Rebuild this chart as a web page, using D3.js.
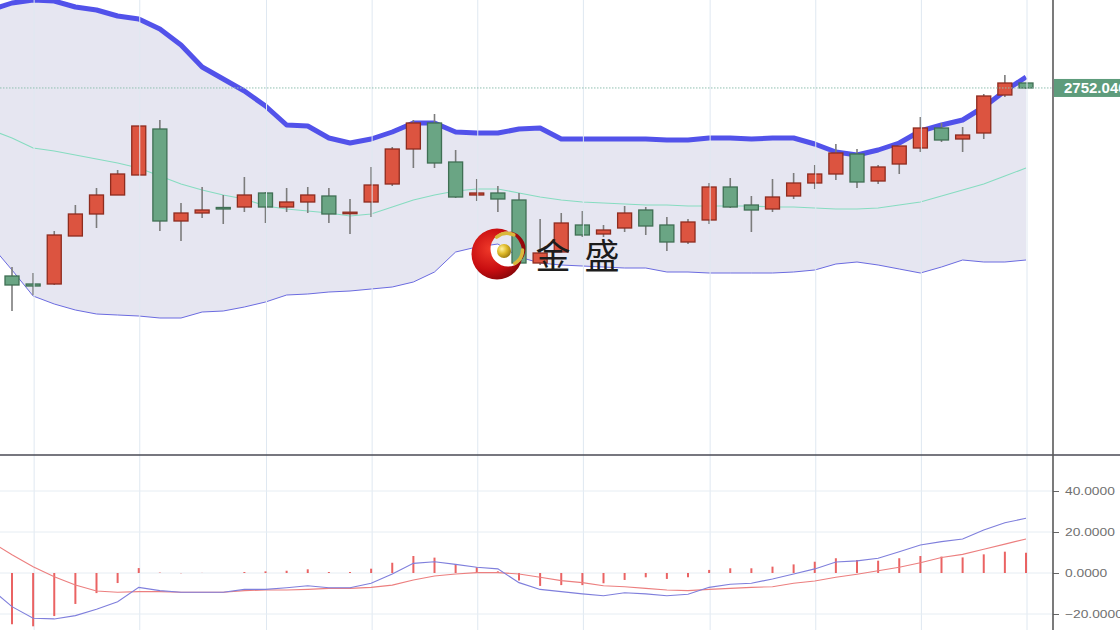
<!DOCTYPE html>
<html><head><meta charset="utf-8">
<script src="https://cdn.jsdelivr.net/npm/d3@7"></script>
<style>html,body{margin:0;padding:0;background:#fff;overflow:hidden}</style>
</head><body><svg id="c" width="1120" height="630"></svg>
<script>
// slot 0 is the session just before the first visible candle (off-screen)
const days = [0,1,2,3,4,5,6,7,8,9,10,11,12,13,14,15,16,17,18,19,20,21,22,23,24,25,26,27,28,29,30,31,32,33,34,35,36,37,38,39,40,41,42,43,44,45,46,47,48,49];
const openP  = [null,2564,2556,2556,2604,2626,2645,2665,2711,2619,2627,2632.5,2633,2647,2633,2638,2644,2627,2638,2656,2691,2717,2678,2645,2647,2640,2577,2588,2615,2606,2612,2630,2615,2598,2620,2653,2635,2631,2644,2657,2666,2686,2659,2676,2692,2712,2701,2707,2745,2757];
const closeP = [null,2555,2554,2605,2626,2645,2666,2714,2619,2627,2630,2632,2645,2633,2638,2645,2626,2627.8,2655,2691,2717,2677,2643,2647,2641,2577,2587,2617,2605,2610,2627,2614,2598,2618,2653,2633,2630,2643,2657,2666,2687,2658,2673,2694,2712,2700,2705,2744,2757,2752.04];
const highP  = [null,2573,2567,2609,2635,2652,2670,2714,2720,2637,2653,2645,2663,2648,2652,2653,2652,2641,2673,2693,2720,2726,2690,2661,2654,2647,2621,2627,2629,2615,2634,2633,2623,2621,2657,2662,2644,2661,2667,2675,2696,2691,2675,2694,2723,2717,2713,2746,2765,2757];
const lowP   = [null,2529,2545,2555,2604,2612,2645,2665,2609,2599,2622,2616,2628,2617,2628,2627,2617,2606,2623,2654,2672,2672,2642,2639,2628,2577,2575,2588,2603,2603,2608,2605,2589,2596,2616,2632,2608,2628,2641,2651,2660,2652,2656,2666,2688,2698,2688,2701,2743,2751];
const bollUpper = [2830,2837,2840,2839,2833,2830,2824,2821,2811,2795,2773,2761,2749,2734,2715,2714,2702,2697,2701,2708,2717,2717,2708,2707,2707,2711,2712,2701,2701,2701,2701,2701,2700,2700,2702,2702,2701,2702,2702,2696,2688,2685,2690,2697,2709,2715,2720,2733,2749,2763];
const bollMid   = [2710,2702,2692,2689,2685,2681,2677,2672,2664,2656,2650,2645,2641,2634,2631,2629,2627,2624,2626,2633,2640,2645,2649,2651,2651,2647,2643,2640,2638,2637,2636,2635,2635,2634,2634,2634,2634,2633,2633,2632,2631,2631,2632,2635,2638,2644,2650,2656,2664,2672];
const bollLower = [2595,2570,2544,2536,2530,2526,2525,2524,2522,2522,2528,2529,2533,2538,2545,2546,2548,2549,2551,2553,2558,2568,2588,2593,2596,2583,2577,2575,2574,2573,2572,2572,2568,2568,2567,2567,2567,2567,2568,2570,2576,2578,2575,2571,2567,2573,2580,2578,2578,2580];
const macdDIF  = [-7.7,-16.4,-22.1,-22.4,-20.8,-17.7,-14.0,-7.0,-8.6,-9.4,-9.4,-9.4,-8.0,-8.0,-7.2,-6.2,-7.2,-7.2,-5.0,-0.5,4.7,5.5,4.2,2.8,2.0,-4.7,-8.0,-9.1,-10.2,-11.1,-9.6,-10.2,-11.1,-10.4,-7.0,-5.5,-5.0,-2.9,-0.5,2.0,5.4,5.9,7.2,10.4,13.7,15.3,16.6,21.0,24.5,26.7];
const macdDEA  = [15.3,8.9,3.1,-1.8,-5.9,-8.8,-9.4,-9.1,-9.1,-9.4,-9.4,-9.4,-8.6,-8.3,-8.3,-8.0,-7.5,-7.5,-7.0,-5.9,-3.4,-1.5,-0.5,0.2,0.2,-0.5,-2.1,-3.7,-4.7,-6.2,-6.7,-7.5,-8.3,-8.6,-8.0,-7.5,-7.0,-6.7,-5.0,-3.9,-2.1,-0.6,1.1,2.8,5.0,7.6,9.1,11.6,14.1,16.6];
const macdHist = [null,-25,-26,-21,-15.1,-9.8,-4.9,2.4,0.2,-0.1,0.05,0,0.5,0.8,1.1,1.8,0.5,0.5,2.1,5.0,8.3,7.5,4.4,2.8,0.8,-3.7,-6.3,-5.9,-5.9,-5.0,-3.4,-2.1,-2.9,-2.1,1.5,2.3,2.3,3.1,4.2,5.5,7.2,6.3,6.0,7.2,8.3,8.0,7.6,9.1,10.4,9.9];
const gridDays = [2,7,13,18,23,28,34,39,44,49];
const macdTicks = [40,20,0,-20];
const lastPrice = 2752.04;

const svg = d3.select("#c");
const W = 1120, H = 630, axisX = 1053, sepY = 455;
const x = d3.scalePoint().domain(days).range([12 - 21.125, 1026]);
const y = d3.scaleLinear().domain([2840, 2385]).range([0, sepY]);
const ym = d3.scaleLinear().domain([-20, 40]).range([614, 491]);

const defs = svg.append("defs");
defs.append("clipPath").attr("id","cpMain").append("rect").attr("x",0).attr("y",0).attr("width",axisX).attr("height",sepY);
defs.append("clipPath").attr("id","cpLow").append("rect").attr("x",0).attr("y",sepY+1).attr("width",axisX).attr("height",H-sepY);
const rg = defs.append("radialGradient").attr("id","redG").attr("cx","35%").attr("cy","40%").attr("r","70%");
rg.append("stop").attr("offset","0%").attr("stop-color","#f03a2a");
rg.append("stop").attr("offset","60%").attr("stop-color","#c80d10");
rg.append("stop").attr("offset","100%").attr("stop-color","#7a0508");
const gg = defs.append("radialGradient").attr("id","goldG").attr("cx","35%").attr("cy","35%").attr("r","70%");
gg.append("stop").attr("offset","0%").attr("stop-color","#fff2a0");
gg.append("stop").attr("offset","50%").attr("stop-color","#e0bb2a");
gg.append("stop").attr("offset","100%").attr("stop-color","#9c7a10");

svg.append("rect").attr("width",W).attr("height",H).attr("fill","#fff");

// main panel
const main = svg.append("g").attr("clip-path","url(#cpMain)");
const idx = d3.range(days.length);
const area = d3.area().x(i=>x(days[i])).y0(i=>y(bollLower[i])).y1(i=>y(bollUpper[i]));
main.append("path").datum(idx).attr("d",area).attr("fill","#e6e6f1");

// vertical grid (both panels)
svg.append("g").selectAll("line").data(gridDays).join("line")
  .attr("x1",d=>x(d)+1).attr("x2",d=>x(d)+1).attr("y1",0).attr("y2",H)
  .attr("stroke","#dfe8f1").attr("stroke-width",1);

// lower panel horizontal grid
svg.append("g").selectAll("line").data(macdTicks).join("line")
  .attr("x1",0).attr("x2",axisX).attr("y1",d=>ym(d)).attr("y2",d=>ym(d))
  .attr("stroke","#e6edf3").attr("stroke-width",1);

const lineOf = (arr, sc) => d3.line().x(i=>x(days[i])).y(i=>sc(arr[i]));
main.append("path").datum(idx).attr("d",lineOf(bollMid,y)).attr("fill","none").attr("stroke","#86dcc0").attr("stroke-width",1.1);
main.append("path").datum(idx).attr("d",lineOf(bollLower,y)).attr("fill","none").attr("stroke","#6b6be0").attr("stroke-width",1);
main.append("path").datum(idx).attr("d",lineOf(bollUpper,y)).attr("fill","none").attr("stroke","#5252ea").attr("stroke-width",5).attr("stroke-linejoin","round");

// last price dotted line
svg.append("line").attr("x1",0).attr("x2",axisX).attr("y1",y(lastPrice)).attr("y2",y(lastPrice))
  .attr("stroke","#8fbfb0").attr("stroke-width",1).attr("stroke-dasharray","1.5,1.5");

// candles
const cIdx = idx.filter(i=>openP[i]!==null);
main.append("g").selectAll("line").data(cIdx).join("line")
  .attr("x1",i=>x(days[i])).attr("x2",i=>x(days[i]))
  .attr("y1",i=>y(highP[i])).attr("y2",i=>y(lowP[i]))
  .attr("stroke","#7c7c7c").attr("stroke-width",1.6);
const bw = 14;
main.append("g").selectAll("rect").data(cIdx).join("rect")
  .attr("x",i=>x(days[i])-bw/2).attr("width",bw)
  .attr("y",i=>y(Math.max(openP[i],closeP[i])))
  .attr("height",i=>Math.max(1.5, Math.abs(y(openP[i])-y(closeP[i]))))
  .attr("fill",i=>closeP[i]>=openP[i]?"#dc5440":"#6aa584")
  .attr("stroke",i=>closeP[i]>=openP[i]?"#8e2c1f":"#3f6f54")
  .attr("stroke-width",1.3);

// lower panel: MACD
const low = svg.append("g").attr("clip-path","url(#cpLow)");
const hIdx = idx.filter(i=>macdHist[i]!==null);
low.append("g").selectAll("line").data(hIdx).join("line")
  .attr("x1",i=>x(days[i])).attr("x2",i=>x(days[i]))
  .attr("y1",ym(0)).attr("y2",i=>ym(macdHist[i]))
  .attr("stroke","#e64848").attr("stroke-opacity",0.85).attr("stroke-width",2);
low.append("path").datum(idx).attr("d",lineOf(macdDEA,ym)).attr("fill","none").attr("stroke","#ec7f7f").attr("stroke-width",1.1);
low.append("path").datum(idx).attr("d",lineOf(macdDIF,ym)).attr("fill","none").attr("stroke","#7f7fdc").attr("stroke-width",1.1);

// separator and right axis
svg.append("line").attr("x1",0).attr("x2",W).attr("y1",sepY).attr("y2",sepY).attr("stroke","#4a4a55").attr("stroke-width",1.6);
const ax = d3.axisRight(ym).tickValues(macdTicks).tickFormat(d3.format(".4f")).tickSize(6).tickPadding(6);
const axg = svg.append("g").attr("transform",`translate(${axisX},0)`).call(ax);
axg.select(".domain").remove();
axg.selectAll(".tick line").attr("stroke","#666");
axg.selectAll(".tick text").attr("fill","#707070").attr("x",10).attr("transform","scale(1.2,1)")
  .style("font-family","Liberation Sans, Arial, sans-serif").style("font-size","11.5px");
svg.append("line").attr("x1",axisX).attr("x2",axisX).attr("y1",0).attr("y2",H).attr("stroke","#5a5a5a").attr("stroke-width",1.6);

// last price label
svg.append("rect").attr("x",axisX+1).attr("y",y(lastPrice)-9).attr("width",W-axisX).attr("height",18).attr("fill","#5e9c7c");
svg.append("text").attr("x",axisX+11).attr("y",y(lastPrice)+5.5).text(d3.format(".4f")(lastPrice))
  .attr("fill","#fff").style("font-family","Liberation Sans, Arial, sans-serif").style("font-size","15px").style("font-weight","bold");

// watermark logo
const lg = svg.append("g");
lg.append("path").attr("fill-rule","evenodd").attr("fill","url(#redG)")
  .attr("d", (function(){
    const p = d3.path();
    p.moveTo(497+25.5,254); p.arc(497,254,25.5,0,2*Math.PI); p.closePath();
    p.moveTo(508+17.5,249); p.arc(508,249,17.5,0,2*Math.PI); p.closePath();
    return p.toString();
  })());
const goldArc = (r,a0,a1)=>{const p=d3.path(); p.arc(507,250,r,a0,a1); return p.toString();};
lg.append("path").attr("d",goldArc(16.5,-2.25,-1.15)).attr("fill","none").attr("stroke","#d9b83c").attr("stroke-width",3.5).attr("stroke-linecap","round");
lg.append("path").attr("d",goldArc(15.5,0.0,1.05)).attr("fill","none").attr("stroke","#d9b83c").attr("stroke-width",3.5).attr("stroke-linecap","round");
lg.append("circle").attr("cx",504).attr("cy",251).attr("r",7).attr("fill","url(#goldG)");
lg.append("text").attr("x",553).attr("y",269).attr("text-anchor","middle").text("金")
  .attr("fill","#1c1c1c").style("font-family","Noto Sans CJK SC").style("font-size","35px");
lg.append("text").attr("x",602).attr("y",269).attr("text-anchor","middle").text("盛")
  .attr("fill","#1c1c1c").style("font-family","Noto Sans CJK SC").style("font-size","35px");
</script></body></html>
